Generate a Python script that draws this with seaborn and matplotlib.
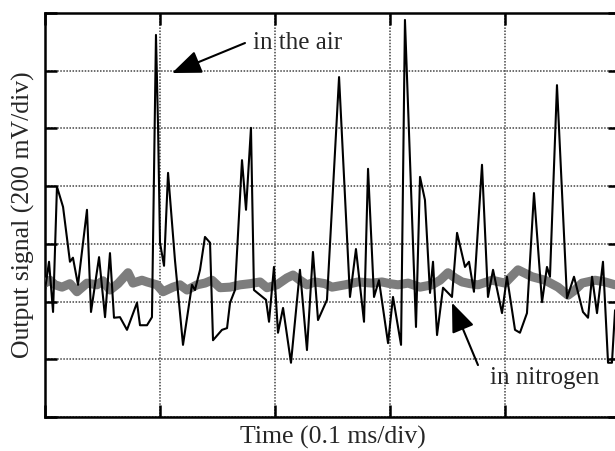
import numpy as np
import matplotlib
matplotlib.use("Agg")
import matplotlib.pyplot as plt
import seaborn as sns

# time axis in divisions (0.1 ms/div), signal in divisions (200 mV/div)
air_t = [0.000, 0.035, 0.070, 0.104, 0.157, 0.217, 0.243, 0.287, 0.365, 0.400,
         0.470, 0.522, 0.565, 0.600, 0.652, 0.713, 0.800, 0.826, 0.887, 0.930,
         0.965, 0.983, 1.000, 1.035, 1.070, 1.130, 1.200, 1.278, 1.304, 1.348,
         1.391, 1.435, 1.461, 1.539, 1.583, 1.609, 1.652, 1.713, 1.748, 1.791,
         1.817, 1.922, 1.948, 1.991, 2.026, 2.070, 2.139, 2.217, 2.278, 2.330,
         2.374, 2.452, 2.557, 2.652, 2.704, 2.774, 2.809, 2.861, 2.904, 2.983,
         3.026, 3.096, 3.130, 3.226, 3.261, 3.304, 3.348, 3.374, 3.409, 3.461,
         3.539, 3.583, 3.652, 3.687, 3.730, 3.800, 3.852, 3.896, 3.974, 4.017,
         4.087, 4.130, 4.191, 4.252, 4.322, 4.365, 4.391, 4.452, 4.539, 4.600,
         4.678, 4.722, 4.757, 4.800, 4.852, 4.896, 4.930, 4.957]
air_v = [2.20, 2.69, 1.82, 3.99, 3.64, 2.69, 2.76, 2.29, 3.59, 1.82,
         2.77, 1.73, 2.84, 1.72, 1.73, 1.51, 1.98, 1.59, 1.59, 1.73,
         6.62, 5.03, 3.02, 2.62, 4.23, 2.72, 1.25, 2.29, 2.20, 2.55,
         3.12, 3.02, 1.33, 1.51, 1.54, 1.98, 2.20, 4.45, 3.59, 5.01,
         2.20, 2.03, 1.65, 2.60, 1.46, 1.89, 0.94, 2.55, 1.16, 2.86,
         1.68, 2.03, 5.89, 2.08, 2.91, 1.65, 4.30, 2.08, 2.37, 1.28,
         2.08, 1.25, 6.88, 1.56, 4.16, 3.76, 2.15, 2.69, 1.42, 2.24,
         2.08, 3.19, 2.60, 2.69, 2.17, 4.37, 2.08, 2.55, 1.80, 2.43,
         1.51, 1.46, 1.80, 3.88, 1.99, 2.60, 2.43, 5.75, 2.06, 2.43,
         1.82, 1.72, 2.43, 1.80, 2.69, 0.94, 0.94, 1.85]

n2_t = [0.000, 0.043, 0.087, 0.148, 0.217, 0.278, 0.365, 0.452, 0.504, 0.565,
        0.635, 0.722, 0.765, 0.843, 0.887, 0.974, 1.026, 1.113, 1.174, 1.235,
        1.322, 1.391, 1.452, 1.522, 1.609, 1.696, 1.783, 1.870, 1.930, 2.017,
        2.104, 2.157, 2.217, 2.278, 2.348, 2.435, 2.496, 2.609, 2.722, 2.843,
        2.930, 3.000, 3.070, 3.157, 3.261, 3.365, 3.435, 3.504, 3.565, 3.626,
        3.696, 3.765, 3.887, 4.000, 4.113, 4.235, 4.348, 4.461, 4.548, 4.609,
        4.670, 4.783, 4.870, 4.957]
n2_v = [2.32, 2.37, 2.29, 2.25, 2.31, 2.17, 2.32, 2.29, 2.36, 2.20,
        2.31, 2.50, 2.32, 2.37, 2.34, 2.29, 2.17, 2.25, 2.29, 2.20,
        2.29, 2.32, 2.37, 2.24, 2.25, 2.29, 2.31, 2.34, 2.24, 2.29,
        2.41, 2.46, 2.37, 2.29, 2.34, 2.31, 2.25, 2.29, 2.34, 2.32,
        2.34, 2.31, 2.29, 2.32, 2.25, 2.29, 2.37, 2.50, 2.41, 2.34,
        2.31, 2.29, 2.37, 2.32, 2.55, 2.43, 2.37, 2.25, 2.11, 2.20,
        2.32, 2.37, 2.34, 2.29]

n_xdiv = 5
n_ydiv = 7

sns.set_style("white")
plt.rcParams["font.family"] = ["Liberation Serif", "DejaVu Serif"]

fig = plt.figure(figsize=(6.15, 4.51), dpi=100)
ax = fig.add_axes([45 / 615, 34 / 451, 575 / 615, 404 / 451])

sns.lineplot(x=n2_t, y=n2_v, ax=ax, color="#7d7d7d", linewidth=6.5,
             sort=False, estimator=None, zorder=3)
sns.lineplot(x=air_t, y=air_v, ax=ax, color="black", linewidth=1.5,
             sort=False, estimator=None, zorder=4)

ax.set_xlim(0, n_xdiv)
ax.set_ylim(0, n_ydiv)
ax.set_xticks(np.arange(0, n_xdiv + 1))
ax.set_yticks(np.arange(0, n_ydiv + 1))
ax.set_xticklabels([])
ax.set_yticklabels([])
ax.grid(True, color="#444444", linestyle=(0, (1, 1)), linewidth=1.1)
ax.tick_params(direction="in", length=8.5, width=1.8, color="black",
               top=True, right=True, bottom=True, left=True)
for s in ax.spines.values():
    s.set_color("black")
    s.set_linewidth(1.8)

ax.set_xlabel("Time (0.1 ms/div)", fontsize=18.5, labelpad=3)
ax.set_ylabel("Output signal (200 mV/div)", fontsize=18.5, labelpad=4)

arrow = dict(arrowstyle="-|>,head_length=1.8,head_width=0.72",
             color="black", lw=1.5, shrinkA=0, shrinkB=0)
ax.annotate("", xy=(1.104, 5.96), xytext=(1.739, 6.48), arrowprops=arrow, zorder=6)
ax.text(1.81, 6.48, "in the air", fontsize=18, ha="left", va="center", zorder=6)

ax.annotate("", xy=(3.539, 1.98), xytext=(3.765, 0.90), arrowprops=arrow, zorder=6)
ax.text(3.87, 0.68, "in nitrogen", fontsize=18, ha="left", va="center", zorder=6)

fig.savefig("out.png", dpi=100, facecolor="white")
